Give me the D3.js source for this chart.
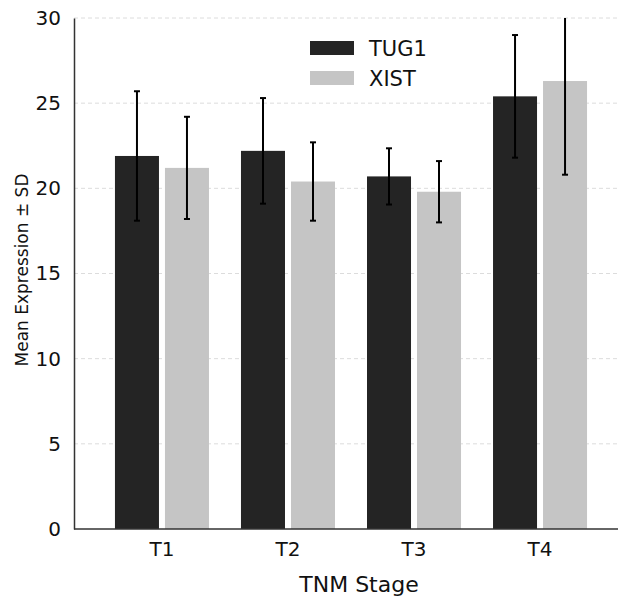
<!DOCTYPE html>
<html>
<head>
<meta charset="utf-8">
<script src="https://cdn.jsdelivr.net/npm/d3@7"></script>
<style>
  body { margin: 0; background: #fff; }
  svg { display: block; font-family: "DejaVu Sans", sans-serif; }
  .grid line { stroke: #dcdcdc; stroke-dasharray: 4,3; }
  .axis path { stroke: #333; stroke-width: 1.5; }
</style>
</head>
<body>
<svg id="chart" width="618" height="603"></svg>
<script>
// --- data ---
const stages = ["T1", "T2", "T3", "T4"];
const series = ["TUG1", "XIST"];
const tug1Mean = [21.9, 22.2, 20.7, 25.4];
const tug1SD = [3.8, 3.1, 1.65, 3.6];
const xistMean = [21.2, 20.4, 19.8, 26.3];
const xistSD = [3.0, 2.3, 1.8, 5.5];
const yTicks = [0, 5, 10, 15, 20, 25, 30];
const colors = { TUG1: "#242424", XIST: "#c5c5c5" };

const rows = stages.map((s, i) => ({
  stage: s,
  values: [
    { key: "TUG1", mean: tug1Mean[i], sd: tug1SD[i] },
    { key: "XIST", mean: xistMean[i], sd: xistSD[i] }
  ]
}));

const svg = d3.select("#chart");
const width = 618;
const plotLeft = 74, plotTop = 18, plotBottom = 529;

const y = d3.scaleLinear().domain([0, 30]).range([plotBottom, plotTop]).clamp(true);

const x0 = d3.scaleBand()
  .domain(stages)
  .range([plotLeft, 628])
  .paddingInner(0.254)
  .paddingOuter(0.325);

const x1 = d3.scaleBand()
  .domain(series)
  .range([0, x0.bandwidth()])
  .paddingInner(0.12);

// gridlines
svg.append("g").attr("class", "grid")
  .selectAll("line")
  .data(yTicks.filter(t => t > 0))
  .join("line")
  .attr("x1", plotLeft).attr("x2", width)
  .attr("y1", d => y(d)).attr("y2", d => y(d));

// bars
const groups = svg.selectAll("g.stage")
  .data(rows)
  .join("g")
  .attr("class", "stage")
  .attr("transform", d => `translate(${x0(d.stage)},0)`);

groups.selectAll("rect")
  .data(d => d.values)
  .join("rect")
  .attr("x", d => x1(d.key))
  .attr("y", d => y(d.mean))
  .attr("width", x1.bandwidth())
  .attr("height", d => y(0) - y(d.mean))
  .attr("fill", d => colors[d.key]);

// error bars (top clipped at 30 for T4 XIST)
const err = groups.selectAll("g.err")
  .data(d => d.values)
  .join("g")
  .attr("class", "err")
  .attr("transform", d => `translate(${x1(d.key) + x1.bandwidth() / 2},0)`)
  .attr("stroke", "#000")
  .attr("stroke-width", 2);

err.append("line")
  .attr("y1", d => y(d.mean - d.sd))
  .attr("y2", d => y(d.mean + d.sd));
err.filter(d => d.mean + d.sd <= 30).append("line")
  .attr("x1", -3).attr("x2", 3)
  .attr("y1", d => y(d.mean + d.sd)).attr("y2", d => y(d.mean + d.sd));
err.append("line")
  .attr("x1", -3).attr("x2", 3)
  .attr("y1", d => y(d.mean - d.sd)).attr("y2", d => y(d.mean - d.sd));

// axes
const yAxis = svg.append("g")
  .attr("class", "axis")
  .attr("transform", `translate(${plotLeft},0)`)
  .call(d3.axisLeft(y).tickValues(yTicks).tickSize(0).tickPadding(13));
yAxis.selectAll("text")
  .attr("font-size", 20)
  .attr("font-family", "DejaVu Sans")
  .attr("fill", "#111");

const xAxis = svg.append("g")
  .attr("class", "axis")
  .attr("transform", `translate(0,${plotBottom})`)
  .call(d3.axisBottom(x0).tickSize(0).tickPadding(13).tickSizeOuter(0));
xAxis.select(".domain").attr("d", `M${plotLeft},0H${width}`);
xAxis.selectAll("text")
  .attr("font-size", 20)
  .attr("font-family", "DejaVu Sans")
  .attr("fill", "#111");

// axis titles
svg.append("text")
  .attr("x", 359).attr("y", 592)
  .attr("text-anchor", "middle")
  .attr("font-size", 22)
  .attr("fill", "#111")
  .text("TNM Stage");

svg.append("text")
  .attr("transform", "translate(28,270) rotate(-90)")
  .attr("text-anchor", "middle")
  .attr("font-size", 17)
  .attr("fill", "#111")
  .text("Mean Expression ± SD");

// legend
const legend = svg.selectAll("g.legend")
  .data(series)
  .join("g")
  .attr("class", "legend")
  .attr("transform", (d, i) => `translate(310,${41 + i * 30})`);

legend.append("rect")
  .attr("width", 44).attr("height", 14)
  .attr("fill", d => colors[d]);

legend.append("text")
  .attr("x", 59).attr("y", 15)
  .attr("font-size", 21)
  .attr("fill", "#111")
  .text(d => d);
</script>
</body>
</html>
